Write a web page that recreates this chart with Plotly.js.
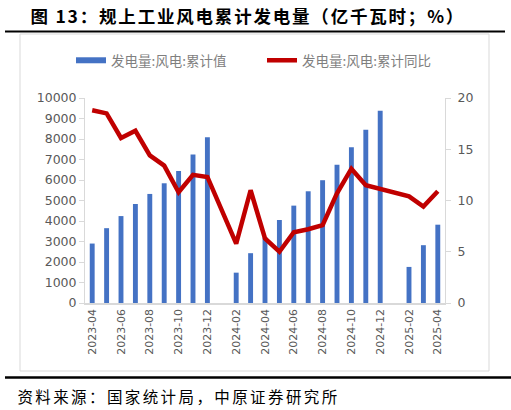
<!DOCTYPE html>
<html>
<head>
<meta charset="utf-8">
<script src="https://cdn.plot.ly/plotly-3.0.1.min.js"></script>
<style>
  html, body { margin: 0; padding: 0; background: #fff; }
  #chart { width: 511px; height: 410px; }
  .annotation[data-index="0"] text { letter-spacing: 1.8px; }
  .annotation[data-index="1"] text { letter-spacing: 2.4px; }
</style>
</head>
<body>
<div id="chart"></div>
<script>
// 规上工业风电累计发电量 — 累计值(亿千瓦时) & 累计同比(%)
const months = [
    "2023-04", "2023-05", "2023-06", "2023-07", "2023-08", "2023-09", "2023-10", "2023-11", "2023-12",
    "2024-01", "2024-02", "2024-03", "2024-04", "2024-05", "2024-06", "2024-07", "2024-08", "2024-09",
    "2024-10", "2024-11", "2024-12", "2025-01", "2025-02", "2025-03", "2025-04"
];
const cumValue = [
    2900, 3650, 4240, 4830, 5320, 5840, 6440, 7240, 8090,
    null, 1480, 2430, 3200, 4050, 4750, 5450, 5990, 6740,
    7600, 8450, 9380, null, 1760, 2820, 3820
];
const cumYoY = [
    18.8, 18.5, 16.1, 16.8, 14.4, 13.4, 10.8, 12.5, 12.3,
    null, 5.8, 11.0, 6.3, 5.0, 6.9, 7.2, 7.6, 10.7,
    13.1, 11.5, 11.1, null, 10.4, 9.4, 10.9
];
const tickMonths = months.filter((_, i) => i % 2 === 0);
const names = ["发电量:风电:累计值", "发电量:风电:累计同比"];

const C = { bar: "#4472C4", line: "#C00000", axis: "#D9D9D9", tick: "#595959", leg: "#7F7F7F" };

// plot area in px: x 85..445, y 98..303
const L = 85, R = 445, T = 98, B = 303;
const px = x => (x - L) / (R - L);
const py = y => (B - y) / (B - T);

const traces = [
    { x: months, y: cumValue, type: "bar", name: names[0], marker: { color: C.bar }, width: 0.34, showlegend: false, hoverinfo: "x+y" },
    { x: [null], y: [null], mode: "lines", name: names[0], line: { color: C.bar, width: 6 }, hoverinfo: "skip" },
    { x: months, y: cumYoY, yaxis: "y2", mode: "lines", name: names[1], connectgaps: true, line: { color: C.line, width: 4.5 } }
];

const tf = { family: "DejaVu Sans, sans-serif", size: 12.5, color: C.tick };

const layout = {
    width: 511, height: 410,
    margin: { l: L, r: 511 - R, t: T, b: 410 - B },
    paper_bgcolor: "#fff", plot_bgcolor: "#fff",
    font: { family: "Noto Sans CJK SC, sans-serif", color: C.tick },
    showlegend: true,
    legend: {
        orientation: "h", x: px(71), y: py(45), xanchor: "left", yanchor: "top",
        font: { size: 13.5, color: C.leg }, entrywidth: 146, bgcolor: "rgba(0,0,0,0)"
    },
    xaxis: {
        type: "category", categoryorder: "array", categoryarray: months, range: [-0.5, months.length - 0.5],
        tickvals: tickMonths, ticktext: tickMonths, tickangle: -90,
        tickfont: { family: "DejaVu Sans, sans-serif", size: 11, color: C.tick },
        showline: true, linecolor: C.axis, linewidth: 1.5, ticks: "", showgrid: false, zeroline: false, fixedrange: true
    },
    yaxis: {
        range: [0, 10000], dtick: 1000, tickformat: "d", tickfont: tf, showgrid: false, zeroline: false,
        showline: true, linecolor: C.axis, linewidth: 1, ticks: "outside", ticklen: 5, tickcolor: C.axis, fixedrange: true
    },
    yaxis2: {
        range: [0, 20], dtick: 5, overlaying: "y", side: "right", tickfont: tf, showgrid: false, zeroline: false,
        showline: true, linecolor: C.axis, linewidth: 1, ticks: "outside", ticklen: 5, tickcolor: C.axis,
        ticklabelstandoff: 4, fixedrange: true
    },
    annotations: [
        { xref: "paper", yref: "paper", x: px(247), y: py(15), xanchor: "center", yanchor: "middle", showarrow: false,
          text: "<b>图 13：规上工业风电累计发电量（亿千瓦时；%）</b>", font: { size: 17.5, color: "#000" } },
        { xref: "paper", yref: "paper", x: px(178), y: py(396), xanchor: "center", yanchor: "middle", showarrow: false,
          text: "资料来源：国家统计局，中原证券研究所", font: { size: 15.5, color: "#000" } }
    ],
    shapes: [
        { type: "rect", xref: "paper", yref: "paper", x0: px(20), x1: px(489), y0: py(371), y1: py(34), line: { color: "#D9D9D9", width: 1 }, layer: "below" },
        { type: "line", xref: "paper", yref: "paper", x0: px(5), x1: px(505), y0: py(31.5), y1: py(31.5), line: { color: "#000", width: 2.2 } },
        { type: "line", xref: "paper", yref: "paper", x0: px(5), x1: px(511), y0: py(377.5), y1: py(377.5), line: { color: "#000", width: 2.5 } }
    ]
};

Plotly.newPlot("chart", traces, layout, { displayModeBar: false, staticPlot: true });
</script>
</body>
</html>
